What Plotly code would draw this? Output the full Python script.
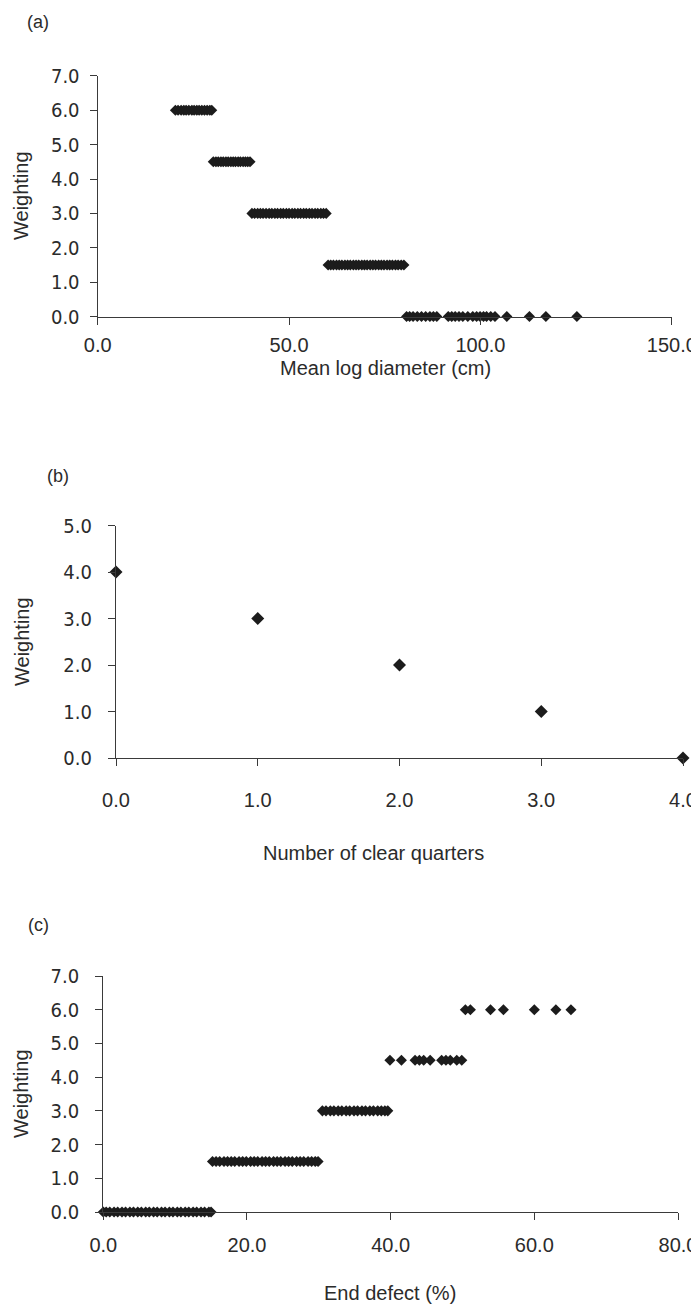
import plotly.graph_objects as go

W, H = 699, 1304
OFF = 8  # the page body adds an 8px margin around the figure; compensate

# ---------------- Data ----------------
# (a) Mean log diameter (cm) vs weighting
a_w6_x = [20.3, 21.0, 21.8, 22.5, 23.1, 23.8, 24.6, 25.2, 25.9, 26.5, 27.2, 27.9, 28.6, 29.3, 29.8]
a_w45_x = [30.2, 30.9, 31.5, 32.2, 32.8, 33.5, 34.1, 34.8, 35.4, 36.0, 36.7, 37.3, 38.0, 38.6, 39.2, 39.8]
a_w3_x = [40.3, 41.0, 41.8, 42.5, 43.2, 44.0, 44.8, 45.5, 46.3, 47.0, 47.8, 48.5, 49.3, 50.0,
          50.8, 51.5, 52.3, 53.0, 53.8, 54.5, 55.3, 56.0, 56.8, 57.5, 58.3, 59.0, 59.7]
a_w15_x = [60.2, 60.9, 61.6, 62.4, 63.1, 63.8, 64.6, 65.3, 66.0, 66.8, 67.5, 68.2, 69.0, 69.7,
           70.4, 71.2, 71.9, 72.6, 73.4, 74.1, 74.8, 75.6, 76.3, 77.0, 77.8, 78.5, 79.3, 80.0]
a_w0_x = [80.7, 81.5, 82.4, 83.5, 84.6, 85.7, 86.8, 87.7, 88.6,
          91.6, 92.5, 93.4, 94.4, 95.4, 96.7, 98.0, 99.0, 99.9, 100.8, 101.6, 102.7, 103.8,
          106.9, 112.8, 117.1, 125.2]

# (b) Number of clear quarters vs weighting
b_x = [0.0, 1.0, 2.0, 3.0, 4.0]
b_y = [4.0, 3.0, 2.0, 1.0, 0.0]

# (c) End defect (%) vs weighting
c_w0_x = [0.0, 0.4, 0.9, 1.5, 2.0, 2.6, 3.1, 3.7, 4.2, 4.8, 5.3, 5.9, 6.4, 7.0, 7.5, 8.1, 8.6,
          9.2, 9.7, 10.3, 10.8, 11.4, 11.9, 12.5, 13.0, 13.6, 14.1, 14.7, 15.0]
c_w15_x = [15.2, 15.7, 16.2, 16.8, 17.3, 17.8, 18.3, 18.9, 19.4, 19.9, 20.5, 21.0, 21.5, 22.1,
           22.6, 23.1, 23.7, 24.2, 24.7, 25.3, 25.8, 26.3, 26.9, 27.4, 27.9, 28.5, 29.0, 29.5, 29.9]
c_w3_x = [30.5, 31.0, 31.6, 32.1, 32.7, 33.2, 33.8, 34.3, 34.9, 35.4, 36.0, 36.5, 37.1, 37.6,
          38.2, 38.7, 39.2, 39.6]
c_w45_x = [39.9, 41.5, 43.4, 44.0, 44.6, 45.5, 47.1, 47.7, 48.3, 49.2, 49.9]
c_w6_x = [50.4, 51.1, 53.9, 55.7, 60.0, 63.0, 65.1]

a_xticks = [0, 50, 100, 150]
a_yticks = [0, 1, 2, 3, 4, 5, 6, 7]
b_xticks = [0, 1, 2, 3, 4]
b_yticks = [0, 1, 2, 3, 4, 5]
c_xticks = [0, 20, 40, 60, 80]
c_yticks = [0, 1, 2, 3, 4, 5, 6, 7]

# ---------------- Layout helpers (targets in screen pixels) ----------------
def xd(px0, px1):
    return [(px0 - OFF) / W, (px1 - OFF) / W]

def yd(py_bottom, py_top):
    return [1 - (py_bottom - OFF) / H, 1 - (py_top - OFF) / H]

MK = "#1c1c1c"
AX = "#3a3a3a"
TXT = "#2b2b2b"
FONT = "Liberation Sans, Arial, sans-serif"
NARROW = "Liberation Sans Narrow, Arial Narrow, DejaVu Sans Condensed, Liberation Sans, Arial, sans-serif"

fig = go.Figure()

def add_pts(xs, yval, xa, ya, size=8.5):
    fig.add_trace(go.Scatter(
        x=xs, y=[yval] * len(xs), mode="markers",
        marker=dict(symbol="diamond", size=size, color=MK, line=dict(width=0)),
        xaxis=xa, yaxis=ya, cliponaxis=False, showlegend=False, hoverinfo="skip"))

add_pts(a_w6_x, 6.0, "x", "y")
add_pts(a_w45_x, 4.5, "x", "y")
add_pts(a_w3_x, 3.0, "x", "y")
add_pts(a_w15_x, 1.5, "x", "y")
add_pts(a_w0_x, 0.0, "x", "y")

fig.add_trace(go.Scatter(
    x=b_x, y=b_y, mode="markers",
    marker=dict(symbol="diamond", size=10, color=MK, line=dict(width=0)),
    xaxis="x2", yaxis="y2", cliponaxis=False, showlegend=False, hoverinfo="skip"))

add_pts(c_w0_x, 0.0, "x3", "y3")
add_pts(c_w15_x, 1.5, "x3", "y3")
add_pts(c_w3_x, 3.0, "x3", "y3")
add_pts(c_w45_x, 4.5, "x3", "y3")
add_pts(c_w6_x, 6.0, "x3", "y3")

def xaxis(dom, rng, ticks, anchor, standoff):
    return dict(domain=dom, range=rng, anchor=anchor, showgrid=False, zeroline=False,
                automargin=False,
                showline=True, linecolor=AX, linewidth=1.3, ticks="outside", ticklen=7,
                tickwidth=1.3, tickcolor=AX, tickvals=ticks,
                ticktext=[f"{t:.1f}" for t in ticks], ticklabelstandoff=standoff,
                tickfont=dict(family=FONT, size=20, color=TXT), fixedrange=True)

def yaxis(dom, rng, ticks, anchor, standoff):
    return dict(domain=dom, range=rng, anchor=anchor, showgrid=False, zeroline=False,
                automargin=False,
                showline=True, linecolor=AX, linewidth=1.3, ticks="outside", ticklen=7,
                tickwidth=1.3, tickcolor=AX, tickvals=ticks,
                ticktext=[f"{t:.1f}" for t in ticks], ticklabelstandoff=standoff,
                tickfont=dict(family=NARROW, size=20, color=TXT), fixedrange=True)

fig.update_layout(
    width=W, height=H, margin=dict(l=0, r=0, t=0, b=0, autoexpand=False),
    paper_bgcolor="white", plot_bgcolor="white",
    xaxis=xaxis(xd(97.7, 671.8), [0, 150], a_xticks, "y", 3),
    yaxis=yaxis(yd(316.5, 75.9), [0, 7], a_yticks, "x", 6),
    xaxis2=xaxis(xd(116, 683), [0, 4], b_xticks, "y2", 17),
    yaxis2=yaxis(yd(758, 525.5), [0, 5], b_yticks, "x2", 12),
    xaxis3=xaxis(xd(103.3, 678), [0, 80], c_xticks, "y3", 8),
    yaxis3=yaxis(yd(1212, 976), [0, 7], c_yticks, "x3", 12),
)

def ann(text, px, py, size=20, angle=0):
    fig.add_annotation(text=text, x=(px - OFF) / W, y=1 - (py - OFF) / H,
                       xref="paper", yref="paper",
                       showarrow=False, xanchor="center", yanchor="middle", textangle=angle,
                       font=dict(family=FONT, size=size, color=TXT))

ann("(a)", 38, 22, size=18)
ann("(b)", 58, 476, size=18)
ann("(c)", 38, 925, size=18)

ann("Mean log diameter (cm)", 385, 368)
ann("Number of clear quarters", 373, 853)
ann("End defect (%)", 390, 1293)

ann("Weighting", 21, 196, angle=-90)
ann("Weighting", 22, 642, angle=-90)
ann("Weighting", 21, 1094, angle=-90)

fig.write_html("out.html")
